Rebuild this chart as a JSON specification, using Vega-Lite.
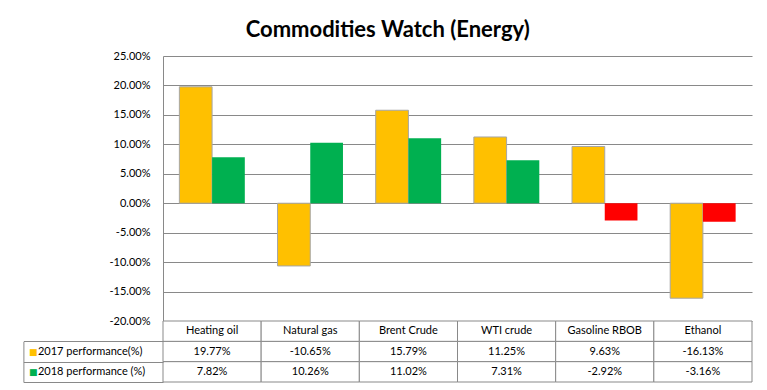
{
  "$schema": "https://vega.github.io/schema/vega-lite/v6.json",
  "padding": {"left": 22, "top": 19, "right": 15, "bottom": 7},
  "background": "white",
  "title": {"text": "Commodities Watch (Energy)", "font": "Lato", "fontSize": 22, "fontWeight": "bold", "color": "black", "anchor": "middle", "offset": 8},
  "config": {
    "locale": {"number": {"decimal": ".", "thousands": ",", "grouping": [3], "currency": ["$", ""], "minus": "-"}},
    "view": {"stroke": null},
    "font": "Lato"
  },
  "datasets": {
    "perf": [
      {"category": "Heating oil", "series": "2017 performance(%)", "value": 0.1977},
      {"category": "Heating oil", "series": "2018 performance (%)", "value": 0.0782},
      {"category": "Natural gas", "series": "2017 performance(%)", "value": -0.1065},
      {"category": "Natural gas", "series": "2018 performance (%)", "value": 0.1026},
      {"category": "Brent Crude", "series": "2017 performance(%)", "value": 0.1579},
      {"category": "Brent Crude", "series": "2018 performance (%)", "value": 0.1102},
      {"category": "WTI crude", "series": "2017 performance(%)", "value": 0.1125},
      {"category": "WTI crude", "series": "2018 performance (%)", "value": 0.0731},
      {"category": "Gasoline RBOB", "series": "2017 performance(%)", "value": 0.0963},
      {"category": "Gasoline RBOB", "series": "2018 performance (%)", "value": -0.0292},
      {"category": "Ethanol", "series": "2017 performance(%)", "value": -0.1613},
      {"category": "Ethanol", "series": "2018 performance (%)", "value": -0.0316}
    ]
  },
  "data": {"name": "perf"},
  "spacing": 0,
  "bounds": "flush",
  "resolve": {"scale": {"x": "independent", "y": "independent", "color": "independent"}},
  "vconcat": [
    {
      "width": 589,
      "height": 265,
      "mark": {"type": "bar", "strokeWidth": 1},
      "encoding": {
        "x": {"field": "category", "type": "nominal", "scale": {"domain": ["Heating oil", "Natural gas", "Brent Crude", "WTI crude", "Gasoline RBOB", "Ethanol"], "paddingInner": 0.3333, "paddingOuter": 0.1667}, "axis": null},
        "xOffset": {"field": "series", "type": "nominal", "scale": {"domain": ["2017 performance(%)", "2018 performance (%)"], "paddingInner": 0, "paddingOuter": 0}},
        "y": {"field": "value", "type": "quantitative", "scale": {"domain": [-0.2, 0.25], "nice": false},
          "axis": {"values": [-0.2, -0.15, -0.1, -0.05, 0, 0.05, 0.1, 0.15, 0.2, 0.25], "format": ".2%", "grid": true, "gridColor": "#898989", "gridWidth": 1, "gridOpacity": 1, "domain": true, "domainColor": "#898989", "ticks": false, "labelPadding": 13, "labelFont": "Lato", "labelFontSize": 11, "labelColor": "black", "title": null}},
        "color": {"condition": {"test": "datum.series == '2018 performance (%)' && datum.value < 0", "value": "#FF0000"}, "field": "series", "type": "nominal", "scale": {"domain": ["2017 performance(%)", "2018 performance (%)"], "range": ["#FFC000", "#00B050"]}, "legend": null},
        "stroke": {"condition": {"test": "datum.series == '2017 performance(%)'", "value": "#A6A6A6"}, "value": null}
      }
    },
    {
      "width": 589,
      "height": 61,
      "resolve": {"scale": {"y": "independent"}, "axis": {"y": "independent"}},
      "layer": [
        {
          "layer": [
            {
              "mark": {"type": "rect", "fill": "white", "stroke": "#898989", "strokeWidth": 1},
              "encoding": {
                "x": {"field": "category", "type": "nominal", "scale": {"domain": ["Heating oil", "Natural gas", "Brent Crude", "WTI crude", "Gasoline RBOB", "Ethanol"], "paddingInner": 0, "paddingOuter": 0}, "axis": null},
                "y": {"field": "series", "type": "nominal", "scale": {"domain": ["header", "2017 performance(%)", "2018 performance (%)"], "paddingInner": 0, "paddingOuter": 0},
                  "axis": {"orient": "left", "tickBand": "extent", "ticks": true, "tickSize": 139.6, "tickColor": {"condition": {"test": "datum.extra", "value": "transparent"}, "value": "#898989"}, "tickWidth": 1, "domain": false, "grid": false, "labelAlign": "left", "labelBaseline": "middle", "labelPadding": -14, "labelExpr": "datum.value == 'header' ? '' : datum.value", "labelFont": "Lato", "labelFontSize": 11, "labelColor": "black", "title": null}}
              }
            },
            {
              "transform": [{"filter": "datum.series == '2017 performance(%)'"}],
              "mark": {"type": "rect", "fill": "white", "stroke": "#898989", "strokeWidth": 1},
              "encoding": {
                "x": {"field": "category", "type": "nominal"},
                "y": {"datum": "header", "type": "nominal"}
              }
            },
            {
              "mark": {"type": "text", "font": "Lato", "fontSize": 11, "color": "black"},
              "encoding": {
                "x": {"field": "category", "type": "nominal"},
                "y": {"field": "series", "type": "nominal"},
                "text": {"field": "value", "type": "quantitative", "format": ".2%"}
              }
            },
            {
              "transform": [{"filter": "datum.series == '2017 performance(%)'"}],
              "mark": {"type": "text", "font": "Lato", "fontSize": 11, "color": "black"},
              "encoding": {
                "x": {"field": "category", "type": "nominal"},
                "y": {"datum": "header", "type": "nominal"},
                "text": {"field": "category", "type": "nominal"}
              }
            }
          ]
        },
        {
          "mark": {"type": "rect", "opacity": 0},
          "encoding": {
            "x": {"field": "category", "type": "nominal"},
            "y": {"field": "series", "type": "nominal", "scale": {"domain": ["header", "2017 performance(%)", "2018 performance (%)"], "paddingInner": 0, "paddingOuter": 0},
              "axis": {"orient": "left", "offset": 139.6, "ticks": false, "domain": true, "domainColor": "#898989", "domainWidth": 1, "domainDash": [0, 20.4, 40.8, 0], "grid": false, "labelAlign": "left", "labelBaseline": "middle", "labelPadding": -5, "labelExpr": "datum.value == 'header' ? '' : '■'", "labelFont": "DejaVu Sans", "labelFontSize": 9, "labelColor": {"condition": {"test": "datum.value == '2017 performance(%)'", "value": "#FFC000"}, "value": "#00B050"}, "title": null}}
          }
        }
      ]
    }
  ]
}
